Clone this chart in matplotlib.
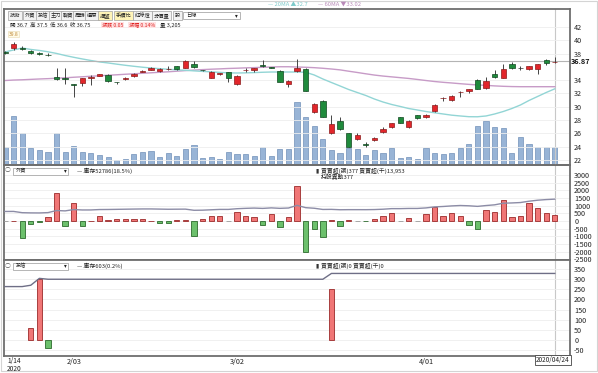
import matplotlib.pyplot as plt
from matplotlib.patches import Rectangle
import numpy as np

plt.rcParams['font.family'] = ['Noto Sans CJK TC', 'DejaVu Sans']
plt.rcParams['axes.unicode_minus'] = False

# daily candles, 1/15 .. 4/24 (65 bars), prices
opens = [38.3, 38.8, 38.9, 38.4, 38.1, 37.85, 34.5, 34.3, 33.4, 33.6,
         34.4, 34.7, 34.8, 33.75, 34.2, 34.6, 35.3, 35.6, 35.4, 35.65,
         36.1, 35.9, 36.5, 35.55, 34.4, 35.0, 35.2, 33.4, 35.5, 35.6,
         36.3, 35.95, 35.4, 33.4, 35.4, 35.7, 29.2, 30.9, 26.0, 27.9,
         26.0, 25.1, 24.4, 25.0, 26.2, 26.9, 28.4, 26.9, 28.7, 28.5,
         29.3, 31.25, 31.0, 32.15, 32.4, 34.1, 32.8, 35.0, 34.4, 36.4,
         35.8, 35.65, 35.7, 37.0, 36.7]
highs = [38.4, 39.8, 39.1, 38.5, 38.2, 38.1, 35.8, 35.8, 33.5, 34.4,
         34.8, 35.0, 34.9, 33.8, 34.5, 35.1, 35.5, 36.0, 35.8, 36.2,
         36.2, 37.0, 36.9, 35.6, 35.4, 35.1, 35.3, 34.8, 35.8, 35.9,
         37.0, 36.0, 35.5, 34.0, 37.2, 35.8, 30.5, 31.0, 28.8, 28.4,
         26.1, 26.0, 24.7, 25.4, 27.0, 27.6, 28.5, 28.0, 28.8, 28.9,
         30.4, 31.4, 31.7, 32.3, 32.7, 34.2, 34.5, 35.6, 36.4, 36.8,
         36.1, 36.2, 36.5, 37.2, 37.5]
lows = [38.0, 38.6, 38.5, 37.9, 37.8, 37.7, 34.0, 33.4, 31.4, 33.2,
        33.3, 34.6, 33.8, 33.5, 34.1, 34.5, 35.2, 35.5, 35.3, 35.6,
        35.6, 35.8, 35.9, 35.4, 34.3, 34.8, 33.8, 33.3, 35.3, 35.2,
        36.0, 35.8, 33.7, 32.9, 35.3, 32.3, 29.1, 28.4, 25.9, 26.5,
        23.9, 25.0, 23.9, 24.9, 26.1, 26.8, 27.5, 26.8, 28.2, 28.3,
        29.2, 30.9, 30.9, 31.4, 32.0, 32.6, 32.7, 34.4, 34.3, 35.7,
        35.5, 35.6, 34.9, 36.3, 36.6]
closes = [38.1, 39.4, 38.7, 38.1, 37.95, 37.8, 34.2, 34.2, 33.3, 34.3,
          34.45, 34.9, 33.9, 33.7, 34.4, 35.0, 35.35, 35.9, 35.7, 35.7,
          35.65, 36.9, 36.0, 35.5, 35.3, 35.05, 34.3, 34.7, 35.6, 35.8,
          36.1, 35.9, 33.8, 33.9, 35.9, 32.4, 30.4, 28.5, 27.4, 26.6,
          24.0, 25.8, 24.2, 25.3, 26.6, 27.5, 27.6, 27.9, 28.3, 28.8,
          30.3, 31.3, 31.6, 32.2, 32.6, 32.7, 33.9, 34.5, 35.7, 35.8,
          35.8, 36.1, 36.4, 36.65, 36.75]
volumes = [3257, 8722, 5749, 2973, 2670, 2261, 5749, 2367, 3435, 2367,
           2189, 1780, 1477, 890, 1015, 1905, 2367, 2545, 1477, 2189,
           1602, 2848, 3560, 1193, 1371, 1015, 2261, 1905, 1905, 1655,
           3257, 1602, 2795, 2795, 11267, 8597, 6942, 4681, 2670, 2189,
           2973, 2795, 1780, 2670, 2189, 3079, 1193, 1371, 1121, 3079,
           2189, 1905, 2083, 3079, 3791, 6942, 7832, 6817, 6639, 2189,
           4931, 3791, 3204, 3204, 3205]
ma20 = [38.24, 38.54, 38.84, 38.62, 38.47, 38.27, 38.02, 37.71, 37.44, 37.19,
        36.96, 36.74, 36.59, 36.41, 36.24, 36.09, 35.95, 35.83, 35.73, 35.64,
        35.56, 35.49, 35.40, 35.32, 35.25, 35.17, 35.10, 35.08, 35.10, 35.14,
        35.19, 35.23, 35.23, 35.23, 35.23, 35.19, 34.78, 34.18, 33.65, 33.13,
        32.60, 32.15, 31.70, 31.17, 30.72, 30.35, 30.05, 29.74, 29.52, 29.29,
        29.10, 28.92, 28.74, 28.62, 28.51, 28.50, 28.62, 28.92, 29.29, 29.74,
        30.27, 30.95, 31.55, 32.15, 32.70]
ma60 = [33.95, 34.02, 34.06, 34.12, 34.18, 34.23, 34.29, 34.36, 34.44, 34.51,
        34.59, 34.66, 34.74, 34.81, 34.89, 34.96, 35.04, 35.11, 35.19, 35.26,
        35.35, 35.44, 35.52, 35.59, 35.65, 35.70, 35.76, 35.80, 35.85, 35.89,
        35.94, 35.98, 36.02, 36.02, 35.98, 35.94, 35.88, 35.79, 35.68, 35.55,
        35.35, 35.16, 34.96, 34.77, 34.62, 34.50, 34.38, 34.26, 34.11, 33.95,
        33.80, 33.68, 33.58, 33.47, 33.37, 33.28, 33.22, 33.14, 33.08, 33.04,
        33.02, 33.02, 33.02, 33.02, 33.02]

# net buy/sell (lots)
foreign_net = [0, 30, -1090, -170, -50, 280, 1800, -300, 1150, -350,
               10, 350, 60, 120, 120, 120, 100, 10, -140, -140,
               60, 50, -1000, 100, 330, 330, 0, 600, 330, 230,
               -280, 450, -400, 280, 2300, -2000, -500, -1050, 80, -330,
               80, 0, -20, 100, 300, 500, 0, 170, 0, 450,
               900, 350, 500, 350, -250, -500, 720, 620, 1400, 230,
               350, 1150, 870, 550, 377]
trust_net = [0] * 65
trust_net[3] = 58
trust_net[4] = 300
trust_net[5] = -38
trust_net[38] = 253
foreign_hold_last = 52786
trust_hold_last = 603

date_ticks = [8, 27, 49]
date_labels = ['2/03', '3/02', '4/01']
price_ticks = [22, 24, 26, 28, 30, 32, 34, 38, 40, 42]
foreign_ticks = list(range(-2500, 3001, 500))
trust_ticks = list(range(-50, 351, 50))
cross_price = 36.87

x = np.arange(len(closes))
o, h, l, c = map(np.array, (opens, highs, lows, closes))

W, H = 598, 373
fig = plt.figure(figsize=(W / 100, H / 100), dpi=100)


def px_axes(x0, y0, x1, y1):
    return fig.add_axes([x0 / W, 1 - y1 / H, (x1 - x0) / W, (y1 - y0) / H])


xlim = (-0.116, 65.77)
fs = 5.2


def style(ax, ticks, ylim):
    ax.set_xlim(*xlim)
    ax.set_ylim(*ylim)
    ax.yaxis.tick_right()
    ax.set_yticks(ticks)
    ax.tick_params(axis='y', length=0, pad=3, labelsize=fs, colors='#222')
    ax.set_xticks([])
    ax.grid(axis='y', color='#eeeeee', lw=0.6)
    for s in ax.spines.values():
        s.set_color('#6e6e6e')
        s.set_linewidth(1.3)
    ax.axvline(64, color='#c8c8c8', lw=0.8, zorder=1)


def hidden_twin(ax, ylim):
    t = ax.twinx()
    t.set_ylim(*ylim)
    t.set_xlim(*xlim)
    t.axis('off')
    return t


# ---- main panel: candles + volume ----
ax1 = px_axes(4, 9, 570, 165)
axv = hidden_twin(ax1, (0, 27768))
axv.bar(x, volumes, width=0.6, color='#98b4d6', edgecolor='#7191b9', lw=0.5)
ax1.set_zorder(axv.get_zorder() + 1)
ax1.patch.set_visible(False)
style(ax1, price_ticks, (21.25, 44.7))

ax1.plot(x, ma60, color='#c79bc7', lw=1.0)
ax1.plot(x, ma20, color='#92d5d5', lw=1.0)
ax1.axhline(cross_price, color='#b4b4b4', lw=0.8)

up = c > o
dn = c < o
body_col = np.where(up, '#e2262b', np.where(dn, '#1f8a3c', '#333333'))
edge_col = np.where(up, '#8a1a1a', np.where(dn, '#10461f', '#333333'))
ax1.vlines(x, l, h, color='#444444', lw=0.7, zorder=3)
ax1.bar(x, np.maximum(np.abs(c - o), 0.06), bottom=np.minimum(o, c), width=0.62,
        color=body_col, edgecolor=edge_col, lw=0.5, zorder=4)
ax1.text(65.9, cross_price, '36.87', fontsize=fs, fontweight='bold',
         va='center', ha='left', color='#111', clip_on=False)
ax1.text(1, highs[1] + 0.9, '39.8', fontsize=3.6, color='#c08a3a', ha='center',
         bbox=dict(boxstyle='square,pad=0.15', fc='#fffbe8', ec='#e6d9b0', lw=0.4))

# ---- foreign investors ----
ax2 = px_axes(4, 165, 570, 260)
ax2t = hidden_twin(ax2, (0, 82400))
style(ax2, foreign_ticks, (-2549, 3660))
fn = np.array(foreign_net)
col2 = np.where(fn > 0, '#f07676', np.where(fn < 0, '#6cc06c', '#bbbbbb'))
ec2 = np.where(fn > 0, '#9c2a2a', np.where(fn < 0, '#2c6a2c', '#999999'))
ax2.bar(x, np.where(fn == 0, 20, fn), width=0.62, color=col2, edgecolor=ec2, lw=0.6, zorder=3)
foreign_hold = foreign_hold_last - fn.sum() + np.cumsum(fn)
ax2t.plot(x, foreign_hold, color='#8c8ca6', lw=1.0)

# ---- investment trust ----
ax3 = px_axes(4, 260, 570, 356)
ax3t = hidden_twin(ax3, (-2997, 1189))
style(ax3, trust_ticks, (-80, 395))
tn = np.array(trust_net)
nz = tn != 0
col3 = np.where(tn[nz] > 0, '#f07676', '#6cc06c')
ec3 = np.where(tn[nz] > 0, '#9c2a2a', '#2c6a2c')
ax3.bar(x[nz], tn[nz], width=0.62, color=col3, edgecolor=ec3, lw=0.6, zorder=3)
trust_hold = trust_hold_last - tn.sum() + np.cumsum(tn)
ax3t.plot(x, trust_hold, color='#6e6e86', lw=1.0)

# date axis
for t, lab in zip(date_ticks, date_labels):
    ax3.text(t, -0.025, lab, transform=ax3.get_xaxis_transform(), fontsize=fs,
             ha='center', va='top', color='#222')
fig.text(7 / W, 1 - 357 / H, '1/14\n2020', fontsize=4.8, ha='left', va='top',
         color='#222', linespacing=1.0)
fig.text(553 / W, 1 - 360 / H, '2020/04/24', fontsize=4.6, ha='center', va='center',
         color='#222', bbox=dict(boxstyle='square,pad=0.2', fc='white', ec='#444', lw=0.6))


def ftxt(px, py, s, **kw):
    kw.setdefault('fontsize', 4.5)
    kw.setdefault('color', '#222')
    kw.setdefault('va', 'center')
    return fig.text(px / W, 1 - py / H, s, **kw)


# toolbar and header
btns = ['技術', '外資', '投信', '主力', '融資', '周轉', '還原', '揮盤', '手續比', '紅綠燈', '分價量', '設']
btn_x = [10, 25, 38, 51, 63, 75, 87, 100, 116, 135, 154, 175]
for b, bx in zip(btns, btn_x):
    hl = b in ('揮盤', '手續比')
    ftxt(bx, 15.5, b, fontsize=3.8,
         bbox=dict(boxstyle='square,pad=0.3', fc='#fff4b8' if hl else '#f3f3f3',
                   ec='#a0a0a0', lw=0.5))
fig.patches.append(Rectangle((183 / W, 1 - 19 / H), 57 / W, 7 / H, transform=fig.transFigure,
                             fc='white', ec='#999', lw=0.5))
ftxt(186, 15.5, '日線', fontsize=3.8)
ftxt(235, 15.5, '▾', fontsize=4)

ftxt(10, 25, '開 36.7  高 37.5  低 36.6  收 36.75', fontsize=4.0)
ftxt(102, 25, '漲跌 0.05', fontsize=3.7, color='#e02020',
     bbox=dict(boxstyle='square,pad=0.1', fc='#ffe3e3', ec='none'))
ftxt(129, 25, '漲幅 0.14%', fontsize=3.7, color='#e02020',
     bbox=dict(boxstyle='square,pad=0.1', fc='#ffe3e3', ec='none'))
ftxt(160, 25, '量 3,205', fontsize=4.0)

ftxt(268, 4.5, '— 20MA ▲32.7', fontsize=4.2, color='#7ccaca')
ftxt(318, 4.5, '— 60MA ▼33.02', fontsize=4.2, color='#b98ab9')

# sub panel legends
for py, name, hold_txt, right_txt in [
        (171, '外資', '— 庫存52786(18.5%)', '買賣超(張)377 買賣超(千)13,953'),
        (266, '投信', '— 庫存603(0.2%)', '買賣超(張)0 買賣超(千)0')]:
    ftxt(8, py, '○', fontsize=4.2, color='#555', ha='center')
    fig.patches.append(Rectangle((13 / W, 1 - (py + 3.5) / H), 55 / W, 7 / H,
                                 transform=fig.transFigure, fc='white', ec='#999', lw=0.5))
    ftxt(16, py, name, fontsize=3.8)
    ftxt(64, py, '▾', fontsize=4)
    ftxt(77, py, hold_txt, fontsize=4.2)
    ftxt(315, py, '▮', fontsize=4.2, color='#333')
    ftxt(321, py, right_txt, fontsize=4.2)
ftxt(321, 176.5, '持股異動377', fontsize=4.2)

fig.patches.append(Rectangle((1 / W, 1 - 371 / H), 596 / W, 370 / H, transform=fig.transFigure,
                             fc='none', ec='#d4d4d4', lw=0.8))

fig.savefig('out.png', dpi=100)
